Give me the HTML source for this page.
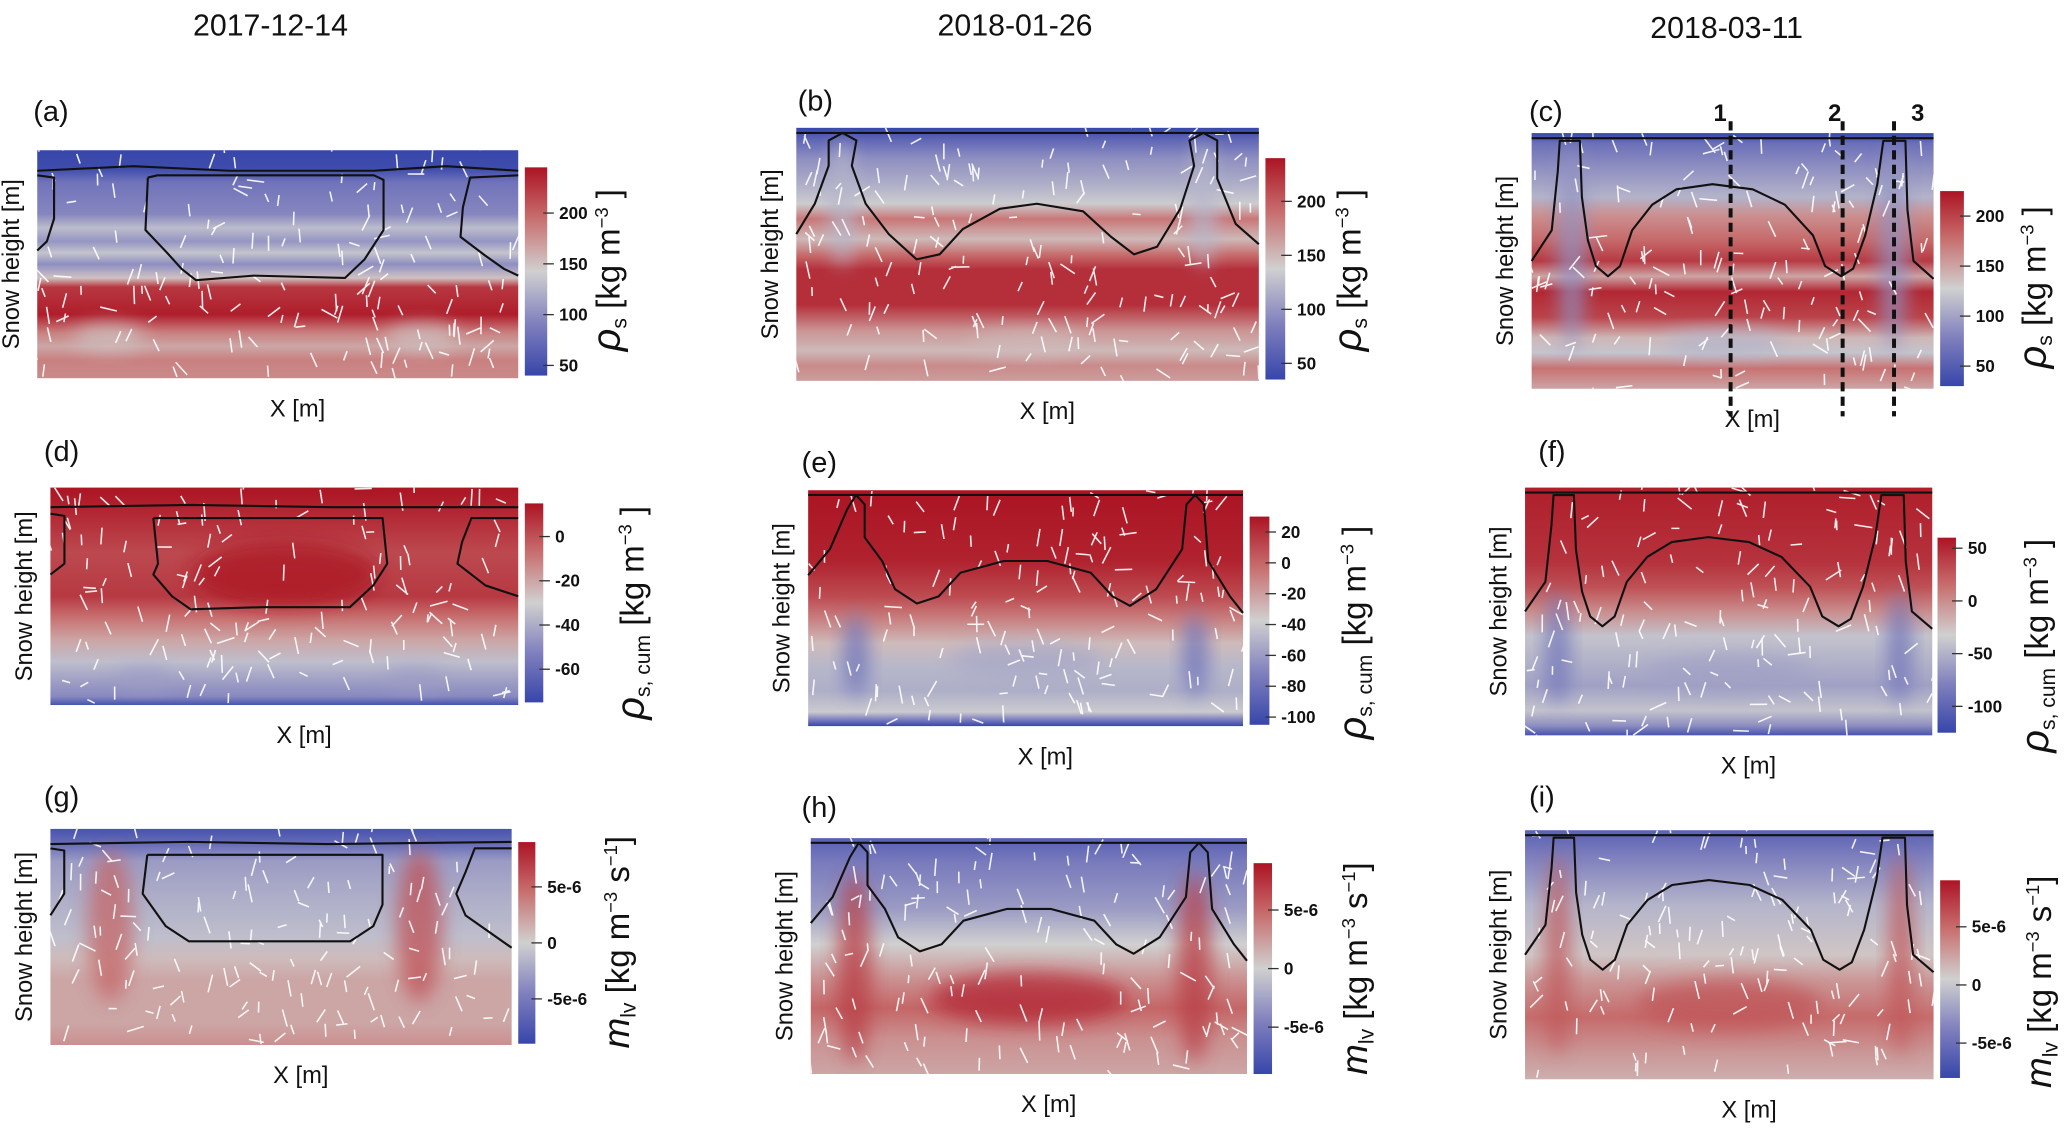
<!DOCTYPE html>
<html><head><meta charset="utf-8">
<style>
html,body{margin:0;padding:0;background:#fff;}
svg{display:block;font-family:"Liberation Sans","DejaVu Sans",sans-serif;}
</style></head>
<body>
<svg id="fig" xmlns="http://www.w3.org/2000/svg" width="2067" height="1132" viewBox="0 0 1568 859">
<defs>
<filter id="blur" x="-50%" y="-50%" width="200%" height="200%"><feGaussianBlur stdDeviation="7"/></filter>
</defs>
<text x="205" y="27" font-size="23" text-anchor="middle" fill="#111">2017-12-14</text>
<text x="770" y="27" font-size="23" text-anchor="middle" fill="#111">2018-01-26</text>
<text x="1310" y="29" font-size="23" text-anchor="middle" fill="#111">2018-03-11</text>
</svg>
<script>
// ---- data arrays (profiles: [depthFraction, value], top to bottom) ----
const profileA=[[0,40],[0.08,45],[0.14,80],[0.28,95],[0.34,130],[0.4,105],[0.45,135],[0.5,100],[0.56,150],[0.6,225],[0.72,240],[0.8,185],[0.86,165],[0.92,185],[1,180]];
const profileB=[[0,35],[0.04,60],[0.12,95],[0.22,115],[0.3,135],[0.36,185],[0.44,150],[0.5,190],[0.56,225],[0.7,225],[0.8,170],[0.88,150],[0.94,175],[1,165]];
const profileC=[[0,30],[0.04,65],[0.12,85],[0.25,110],[0.32,160],[0.42,180],[0.5,205],[0.56,150],[0.62,215],[0.72,200],[0.8,140],[0.86,120],[0.92,175],[1,150]];
const profileD=[[0,15],[0.08,12],[0.3,2],[0.5,6],[0.6,-8],[0.7,-20],[0.8,-35],[0.9,-45],[0.96,-50],[1,-70]];
const profileE=[[0,30],[0.3,25],[0.45,10],[0.55,-10],[0.65,-30],[0.75,-48],[0.85,-52],[0.94,-40],[0.97,-70],[1,-105]];
const profileF=[[0,55],[0.3,45],[0.4,30],[0.5,0],[0.6,-40],[0.7,-50],[0.8,-60],[0.9,-40],[0.96,-70],[1,-115]];
const profileG=[[0,-8e-6],[0.07,-6e-6],[0.15,-3e-6],[0.3,-2e-6],[0.5,-1e-6],[0.6,1e-6],[0.7,2e-6],[0.9,2e-6],[1,3e-6]];
const profileH=[[0,-7e-6],[0.1,-5e-6],[0.3,-3e-6],[0.45,0],[0.6,3e-6],[0.72,5e-6],[0.85,3e-6],[1,2e-6]];
const profileI=[[0,-6e-6],[0.1,-4e-6],[0.3,-1e-6],[0.5,1e-6],[0.6,3e-6],[0.75,5e-6],[0.9,3e-6],[1,2e-6]];
// blobs: [xFrac, yFrac, wFrac, hFrac, value]
const blobsA=[[0.15,0.82,0.15,0.12,150],[0.8,0.82,0.15,0.12,150]];
const blobsB=[[0.1,0.3,0.06,0.5,120],[0.88,0.3,0.06,0.5,120],[0.5,0.85,0.25,0.1,150]];
const blobsC=[[0.1,0.45,0.07,0.8,90],[0.9,0.45,0.07,0.8,90],[0.48,0.82,0.3,0.1,110]];
const blobsD=[[0.5,0.4,0.4,0.3,15],[0.2,0.88,0.12,0.1,-45],[0.78,0.88,0.12,0.1,-45]];
const blobsE=[[0.11,0.7,0.06,0.35,-80],[0.89,0.7,0.06,0.35,-80],[0.5,0.72,0.35,0.15,-55]];
const blobsF=[[0.08,0.65,0.06,0.45,-90],[0.92,0.65,0.06,0.45,-90],[0.5,0.75,0.4,0.15,-60]];
const blobsG=[[0.13,0.45,0.1,0.7,5e-6],[0.8,0.45,0.1,0.7,6e-6]];
const blobsH=[[0.1,0.55,0.08,0.8,7e-6],[0.88,0.55,0.08,0.8,7e-6],[0.5,0.68,0.45,0.22,8e-6]];
const blobsI=[[0.08,0.5,0.06,0.8,6e-6],[0.92,0.5,0.06,0.8,6e-6],[0.5,0.7,0.45,0.2,6e-6]];
// contour polylines [xFrac,yFrac]
const topA=[[0,0.09],[0.2,0.07],[0.4,0.09],[0.7,0.09],[0.85,0.07],[1,0.09]];
const topD=[[0,0.09],[0.3,0.08],[0.6,0.09],[1,0.09]];
const topG=[[0,0.07],[0.3,0.06],[0.6,0.07],[1,0.06]];
const topFlat=[[0,0.02],[0.5,0.02],[1,0.02]];
const blobCenterA=[[0.23,0.12],[0.225,0.35],[0.27,0.45],[0.3,0.52],[0.33,0.57],[0.45,0.55],[0.64,0.56],[0.68,0.48],[0.72,0.35],[0.72,0.13],[0.7,0.11],[0.25,0.11],[0.23,0.12]];
const blobLeftA=[[0,0.11],[0.035,0.12],[0.035,0.3],[0.02,0.4],[0,0.44]];
const blobRightA=[[1,0.11],[0.9,0.12],[0.885,0.25],[0.88,0.38],[0.93,0.46],[0.97,0.52],[1,0.55]];
const domeB=[[0,0.42],[0.04,0.3],[0.07,0.15],[0.07,0.05],[0.1,0.02],[0.13,0.05],[0.12,0.15],[0.15,0.3],[0.2,0.42],[0.26,0.52],[0.31,0.5],[0.36,0.4],[0.44,0.32],[0.52,0.3],[0.62,0.33],[0.68,0.43],[0.73,0.5],[0.78,0.47],[0.83,0.32],[0.86,0.15],[0.85,0.05],[0.88,0.02],[0.91,0.05],[0.91,0.2],[0.95,0.38],[1,0.46]];
const domeC=[[0,0.5],[0.05,0.38],[0.065,0.15],[0.07,0.03],[0.12,0.03],[0.125,0.25],[0.14,0.42],[0.16,0.52],[0.19,0.56],[0.22,0.52],[0.25,0.38],[0.3,0.28],[0.36,0.22],[0.45,0.2],[0.55,0.22],[0.63,0.28],[0.7,0.4],[0.73,0.52],[0.77,0.56],[0.8,0.53],[0.83,0.4],[0.86,0.2],[0.875,0.03],[0.93,0.03],[0.935,0.3],[0.95,0.5],[1,0.57]];
const domeE=[[0,0.36],[0.05,0.25],[0.09,0.08],[0.11,0.02],[0.13,0.06],[0.13,0.2],[0.17,0.3],[0.2,0.42],[0.25,0.48],[0.3,0.45],[0.35,0.35],[0.45,0.3],[0.55,0.3],[0.65,0.35],[0.7,0.45],[0.74,0.49],[0.8,0.42],[0.86,0.25],[0.87,0.06],[0.89,0.02],[0.91,0.06],[0.92,0.3],[0.97,0.45],[1,0.52]];
const blobCenterD=[[0.22,0.14],[0.23,0.35],[0.22,0.4],[0.26,0.5],[0.3,0.56],[0.45,0.55],[0.64,0.55],[0.69,0.45],[0.72,0.35],[0.71,0.14],[0.22,0.14]];
const blobLeftD=[[0,0.12],[0.03,0.13],[0.03,0.35],[0,0.4]];
const blobRightD=[[1,0.14],[0.9,0.14],[0.88,0.25],[0.87,0.35],[0.93,0.45],[1,0.5]];
const blobCenterG=[[0.21,0.12],[0.2,0.3],[0.25,0.45],[0.3,0.52],[0.65,0.52],[0.7,0.45],[0.72,0.35],[0.72,0.12],[0.21,0.12]];
const blobLeftG=[[0,0.09],[0.03,0.1],[0.03,0.3],[0,0.4]];
const blobRightG=[[1,0.09],[0.92,0.09],[0.9,0.2],[0.88,0.3],[0.9,0.4],[1,0.55]];
// tick labels
const ticksRho=[200,150,100,50];
const ticksD=[0,-20,-40,-60];
const ticksE=[20,0,-20,-40,-60,-80,-100];
const ticksF=[50,0,-50,-100];
const ticksM=[5e-6,0,-5e-6];
const tickTextM=["5e-6","0","-5e-6"];

const NS="http://www.w3.org/2000/svg";
const svg=document.getElementById('fig');
function mk(tag,attrs,parent){const e=document.createElementNS(NS,tag);for(const k in attrs)e.setAttribute(k,attrs[k]);(parent||svg).appendChild(e);return e;}
const cstops=[[0,[55,70,170]],[0.25,[128,128,190]],[0.5,[208,208,208]],[0.75,[200,112,112]],[1,[172,20,35]]];
function cmap(t){t=Math.max(0,Math.min(1,t));for(let i=1;i<cstops.length;i++){if(t<=cstops[i][0]){const a=cstops[i-1],b=cstops[i];const f=(t-a[0])/(b[0]-a[0]);const c=a[1].map((v,j)=>Math.round(v+(b[1][j]-v)*f));return `rgb(${c[0]},${c[1]},${c[2]})`;}}return 'rgb(172,20,35)';}
let seed=7;function rnd(){seed=(seed*16807)%2147483647;return seed/2147483647;}
let gid=0;
function panel(p){
  const g=mk('g',{});
  const norm=v=>(v-p.min)/(p.max-p.min);
  const gr=mk('linearGradient',{id:'g'+(++gid),x1:0,y1:0,x2:0,y2:1},svg.querySelector('defs'));
  p.profile.forEach(s=>mk('stop',{offset:s[0],'stop-color':cmap(norm(s[1]))},gr));
  const clip=mk('clipPath',{id:'c'+gid},svg.querySelector('defs'));
  mk('rect',{x:p.x,y:p.y,width:p.w,height:p.h},clip);
  const hm=mk('rect',{x:p.x,y:p.y,width:p.w,height:p.h,fill:`url(#g${gid})`},g);
  
  const bg=mk('g',{'clip-path':`url(#c${gid})`},g);
  p.blobs.forEach(b=>{const e=mk('ellipse',{cx:p.x+b[0]*p.w,cy:p.y+b[1]*p.h,rx:b[2]*p.w/2,ry:b[3]*p.h/2,fill:cmap(norm(b[4])),opacity:0.75,filter:'url(#blur)'},bg);
    });
  const ag=mk('g',{stroke:'#fff','stroke-width':1.2,opacity:0.9,'clip-path':`url(#c${gid})`},g);
  
  const n=Math.round(p.w*p.h/400);
  for(let i=0;i<n;i++){const x=p.x+rnd()*p.w,y=p.y+rnd()*p.h;const vert=rnd()<0.6;const a=vert?(-Math.PI/2+(rnd()-0.5)*0.9):(rnd()*Math.PI*2);const L=6+rnd()*8;
    mk('line',{x1:x,y1:y,x2:x+Math.cos(a)*L,y2:y+Math.sin(a)*L},ag);}
  p.contours.forEach(c=>{const pl=mk('polyline',{points:c.map(q=>(p.x+q[0]*p.w)+','+(p.y+q[1]*p.h)).join(' '),fill:'none',stroke:'#111','stroke-width':1.6,'stroke-linejoin':'round'},g);
    });
  const cg=mk('linearGradient',{id:'cb'+gid,x1:0,y1:1,x2:0,y2:0},svg.querySelector('defs'));
  for(let i=0;i<=8;i++)mk('stop',{offset:i/8,'stop-color':cmap(i/8)},cg);
  const cb=mk('rect',{x:p.cx,y:p.cy,width:p.cw,height:p.ch,fill:`url(#cb${gid})`},g);
  
  p.ticks.forEach((t,i)=>{const yy=p.cy+p.ch*(1-(t-p.min)/(p.max-p.min));
    mk('line',{x1:p.cx+p.cw-3,x2:p.cx+p.cw+5,y1:yy,y2:yy,stroke:'#333','stroke-width':1},g);
    const tx=mk('text',{x:p.cx+p.cw+9,y:yy+4.5,'font-size':13,fill:'#111','font-weight':'bold'},g);tx.textContent=p.tickText?p.tickText[i]:String(t);
    });
  const lt=mk('text',{transform:`translate(${p.lx},${p.ly}) rotate(-90)`,'font-size':25,'text-anchor':'middle',fill:'#111'},g);
  
  lt.innerHTML=p.label;
  const pl=mk('text',{x:p.px,y:p.py,'font-size':22,fill:'#111'},g);pl.textContent='('+p.id+')';
  
  const yl=mk('text',{transform:`translate(${p.x-14},${p.y+p.h/2}) rotate(-90)`,'font-size':18,'text-anchor':'middle',fill:'#111'},g);yl.textContent='Snow height [m]';
  
  const xl=mk('text',{x:p.x+p.w/2+15,y:p.y+p.h+29,'font-size':18,'text-anchor':'middle',fill:'#111'},g);xl.textContent='X [m]';
  
}
const rhoL='<tspan font-size="30" font-style="italic">ρ</tspan><tspan font-size="16" dy="5">s</tspan><tspan dy="-5"> [kg m</tspan><tspan font-size="14" dy="-9">−3</tspan><tspan dy="9"> ]</tspan>';
const cumL='<tspan font-size="30" font-style="italic">ρ</tspan><tspan font-size="16" dy="5">s, cum</tspan><tspan dy="-5"> [kg m</tspan><tspan font-size="14" dy="-9">−3</tspan><tspan dy="9"> ]</tspan>';
const mL='<tspan font-size="28" font-style="italic">m</tspan><tspan font-size="16" dy="5">lv</tspan><tspan dy="-5"> [kg m</tspan><tspan font-size="14" dy="-9">−3</tspan><tspan dy="9"> s</tspan><tspan font-size="14" dy="-9">−1</tspan><tspan dy="9">]</tspan>';
panel({id:'a',x:28,y:114,w:365,h:173,min:40,max:245,profile:profileA,blobs:blobsA,contours:[topA,blobCenterA,blobLeftA,blobRightA],cx:398,cy:127,cw:17,ch:158,ticks:ticksRho,lx:470,ly:205,label:rhoL,px:25,py:92});
panel({id:'b',x:604,y:97,w:351,h:192,min:35,max:240,profile:profileB,blobs:blobsB,contours:[topFlat,domeB],cx:960,cy:120,cw:15,ch:168,ticks:ticksRho,lx:1032,ly:205,label:rhoL,px:605,py:84});
panel({id:'c',x:1162,y:101,w:305,h:194,min:30,max:225,profile:profileC,blobs:blobsC,contours:[topFlat,domeC],cx:1472,cy:145,cw:18,ch:148,ticks:ticksRho,lx:1552,ly:218,label:rhoL,px:1160,py:92});
panel({id:'d',x:38,y:370,w:355,h:165,min:-75,max:15,profile:profileD,blobs:blobsD,contours:[topD,blobCenterD,blobLeftD,blobRightD],cx:398,cy:382,cw:14,ch:151,ticks:ticksD,lx:488,ly:465,label:cumL,px:33,py:350});
panel({id:'e',x:613,y:372,w:330,h:179,min:-105,max:30,profile:profileE,blobs:blobsE,contours:[topFlat,domeE],cx:948,cy:392,cw:15,ch:158,ticks:ticksE,lx:1036,ly:480,label:cumL,px:608,py:358});
panel({id:'f',x:1157,y:370,w:309,h:188,min:-125,max:60,profile:profileF,blobs:blobsF,contours:[topFlat,domeC],cx:1470,cy:408,cw:14,ch:148,ticks:ticksF,lx:1554,ly:490,label:cumL,px:1167,py:350});
panel({id:'g',x:38,y:629,w:350,h:164,min:-9e-6,max:9e-6,profile:profileG,blobs:blobsG,contours:[topG,blobCenterG,blobLeftG,blobRightG],cx:393,cy:639,cw:13,ch:153,ticks:ticksM,tickText:tickTextM,lx:477,ly:715,label:mL,px:33,py:612});
panel({id:'h',x:615,y:636,w:331,h:179,min:-9e-6,max:9e-6,profile:profileH,blobs:blobsH,contours:[topFlat,domeE],cx:951,cy:655,cw:14,ch:160,ticks:ticksM,tickText:tickTextM,lx:1037,ly:735,label:mL,px:608,py:620});
panel({id:'i',x:1157,y:630,w:310,h:189,min:-8e-6,max:9e-6,profile:profileI,blobs:blobsI,contours:[topFlat,domeC],cx:1472,cy:668,cw:15,ch:150,ticks:ticksM,tickText:tickTextM,lx:1556,ly:745,label:mL,px:1160,py:612});
const cutX=[1313,1398,1437];const cutLab=['1','2','3'];const cutLabX=[1305,1392,1455];
cutX.forEach((x,i)=>{const l=mk('line',{x1:x,x2:x,y1:92,y2:316,stroke:'#111','stroke-width':3,'stroke-dasharray':'7,4'});
  
  const t=mk('text',{x:cutLabX[i],y:92,'font-size':18,'font-weight':'bold','text-anchor':'middle',fill:'#111'});t.textContent=cutLab[i];
  });
</script>
</body></html>
